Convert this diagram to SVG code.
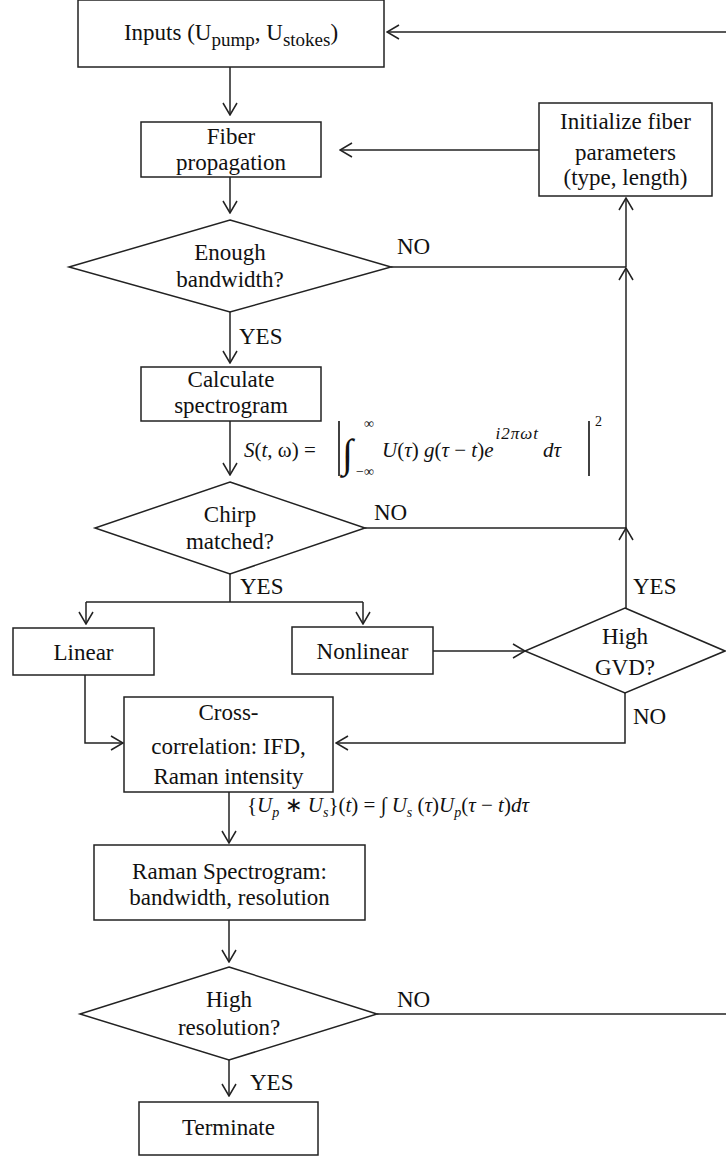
<svg xmlns="http://www.w3.org/2000/svg" width="726" height="1157" viewBox="0 0 726 1157">
<style>
.box{fill:#fff;stroke:#222;stroke-width:1.5}
.t{font-family:"Liberation Serif","Times New Roman",serif;font-size:23px;fill:#111;text-anchor:middle}
.l{font-family:"Liberation Serif","Times New Roman",serif;font-size:23px;fill:#111}
.c{fill:none;stroke:#222;stroke-width:1.5}
.m{font-family:"Liberation Serif","Times New Roman",serif;font-size:21px;fill:#111}
.s{font-family:"Liberation Serif","Times New Roman",serif;font-size:14px;fill:#111}
.big{font-family:"Liberation Serif","Times New Roman",serif;font-size:40px;fill:#111}
.i{font-style:italic}
</style>
<defs>
<marker id="a" viewBox="0 0 14 16" refX="13" refY="8" markerWidth="14" markerHeight="16" markerUnits="userSpaceOnUse" orient="auto">
<path d="M1,1 L13,8 L1,15" fill="none" stroke="#222" stroke-width="1.5"/>
</marker>
</defs>
<rect width="726" height="1157" fill="#fff"/>
<g id="connectors">
<line class="c" x1="726" y1="32" x2="387" y2="32" marker-end="url(#a)"/>
<line class="c" x1="230" y1="67" x2="230" y2="115" marker-end="url(#a)"/>
<line class="c" x1="539" y1="150" x2="340" y2="150" marker-end="url(#a)"/>
<line class="c" x1="230" y1="177" x2="230" y2="213" marker-end="url(#a)"/>
<line class="c" x1="391" y1="267" x2="626" y2="267"/>
<line class="c" x1="626" y1="608" x2="626" y2="528" marker-end="url(#a)"/>
<line class="c" x1="626" y1="528" x2="626" y2="268" marker-end="url(#a)"/>
<line class="c" x1="626" y1="267" x2="626" y2="198" marker-end="url(#a)"/>
<line class="c" x1="365" y1="528" x2="626" y2="528"/>
<line class="c" x1="230" y1="312" x2="230" y2="363" marker-end="url(#a)"/>
<line class="c" x1="230" y1="421" x2="230" y2="475" marker-end="url(#a)"/>
<polyline class="c" points="230,574 230,602"/>
<line class="c" x1="86" y1="602" x2="363" y2="602"/>
<line class="c" x1="86" y1="602" x2="86" y2="624" marker-end="url(#a)"/>
<line class="c" x1="363" y1="602" x2="363" y2="624" marker-end="url(#a)"/>
<line class="c" x1="433" y1="651" x2="525" y2="651" marker-end="url(#a)"/>
<polyline class="c" points="625,693 625,743 336,743" marker-end="url(#a)"/>
<polyline class="c" points="85,675 85,743 123,743" marker-end="url(#a)"/>
<line class="c" x1="229" y1="792" x2="229" y2="843" marker-end="url(#a)"/>
<line class="c" x1="229" y1="920" x2="229" y2="962" marker-end="url(#a)"/>
<line class="c" x1="377" y1="1014" x2="726" y2="1014"/>
<line class="c" x1="229" y1="1060" x2="229" y2="1096" marker-end="url(#a)"/>
</g>
<g id="labels">
<text class="l" x="397" y="254">NO</text>
<text class="l" x="239" y="344">YES</text>
<text class="l" x="374" y="520">NO</text>
<text class="l" x="240" y="594">YES</text>
<text class="l" x="633" y="594">YES</text>
<text class="l" x="633" y="724">NO</text>
<text class="l" x="397" y="1007">NO</text>
<text class="l" x="250" y="1090">YES</text>
</g>
<g id="formula1">
<text class="m" x="244" y="457"><tspan class="i">S</tspan>(<tspan class="i">t</tspan>, ω) =</text>
<line x1="339" y1="421" x2="339" y2="476" stroke="#111" stroke-width="1.6"/>
<text class="big" x="342" y="467">∫</text>
<text class="s" x="364" y="428">∞</text>
<text class="s" x="356" y="476">−∞</text>
<text class="m" x="382" y="457"><tspan class="i">U</tspan>(<tspan class="i">τ</tspan>) <tspan class="i">g</tspan>(<tspan class="i">τ</tspan> − <tspan class="i">t</tspan>)<tspan class="i">e</tspan><tspan class="i" style="font-size:17px;letter-spacing:1px" dx="2" dy="-18">i2πωt</tspan><tspan class="i" dx="4" dy="18">dτ</tspan></text>
<line x1="589" y1="421" x2="589" y2="476" stroke="#111" stroke-width="1.6"/>
<text class="s" x="595" y="426">2</text>
</g>
<g id="formula2">
<text class="m" x="247" y="812">{<tspan class="i">U</tspan><tspan class="i" style="font-size:14px" dy="5">p</tspan><tspan dy="-5"> ∗ </tspan><tspan class="i">U</tspan><tspan class="i" style="font-size:14px" dy="5">s</tspan><tspan dy="-5">}(</tspan><tspan class="i">t</tspan>) = ∫ <tspan class="i">U</tspan><tspan class="i" style="font-size:14px" dy="5">s</tspan><tspan dy="-5"> (</tspan><tspan class="i">τ</tspan>)<tspan class="i">U</tspan><tspan class="i" style="font-size:14px" dy="5">p</tspan><tspan dy="-5">(</tspan><tspan class="i">τ</tspan> − <tspan class="i">t</tspan>)<tspan class="i">dτ</tspan></text>
</g>
<g id="inputs">
<rect class="box" x="78" y="0" width="306" height="67"/>
<text class="t" x="231" y="40">Inputs  (U<tspan style="font-size:19px" dy="6">pump</tspan><tspan dy="-6">, U</tspan><tspan style="font-size:19px" dy="6">stokes</tspan><tspan dy="-6">)</tspan></text>
</g>
<g id="fiber">
<rect class="box" x="141" y="122" width="180" height="55"/>
<text class="t" x="231" y="144">Fiber</text>
<text class="t" x="231" y="170">propagation</text>
</g>
<g id="init">
<rect class="box" x="539" y="103" width="173" height="93"/>
<text class="t" x="625.5" y="129">Initialize  fiber</text>
<text class="t" x="625.5" y="160">parameters</text>
<text class="t" x="625.5" y="185">(type, length)</text>
</g>
<g id="bandwidth">
<polygon class="box" points="230,220 391,267 230,312 69,267"/>
<text class="t" x="230" y="260">Enough</text>
<text class="t" x="230" y="287">bandwidth?</text>
</g>
<g id="spectrogram">
<rect class="box" x="141" y="367" width="180" height="54"/>
<text class="t" x="231" y="387">Calculate</text>
<text class="t" x="231" y="413">spectrogram</text>
</g>
<g id="chirp">
<polygon class="box" points="230,482 365,528 230,574 95,528"/>
<text class="t" x="230" y="522">Chirp</text>
<text class="t" x="230" y="549">matched?</text>
</g>
<g id="linear">
<rect class="box" x="13" y="628" width="141" height="47"/>
<text class="t" x="83.5" y="660">Linear</text>
</g>
<g id="nonlinear">
<rect class="box" x="292" y="627" width="141" height="47"/>
<text class="t" x="362.5" y="659">Nonlinear</text>
</g>
<g id="gvd">
<polygon class="box" points="625,608 725,651 625,693 525,651"/>
<text class="t" x="625" y="644">High</text>
<text class="t" x="625" y="675">GVD?</text>
</g>
<g id="crosscorr">
<rect class="box" x="124" y="697" width="209" height="95"/>
<text class="t" x="228.5" y="720">Cross-</text>
<text class="t" x="228.5" y="754">correlation:  IFD,</text>
<text class="t" x="228.5" y="784">Raman  intensity</text>
</g>
<g id="raman">
<rect class="box" x="94" y="845" width="271" height="75"/>
<text class="t" x="229.5" y="879">Raman  Spectrogram:</text>
<text class="t" x="229.5" y="905">bandwidth,  resolution</text>
</g>
<g id="resolution">
<polygon class="box" points="229,967 377,1014 229,1060 80,1014"/>
<text class="t" x="229" y="1007">High</text>
<text class="t" x="229" y="1035">resolution?</text>
</g>
<g id="terminate">
<rect class="box" x="139" y="1102" width="179" height="53"/>
<text class="t" x="228.5" y="1135">Terminate</text>
</g>
</svg>
